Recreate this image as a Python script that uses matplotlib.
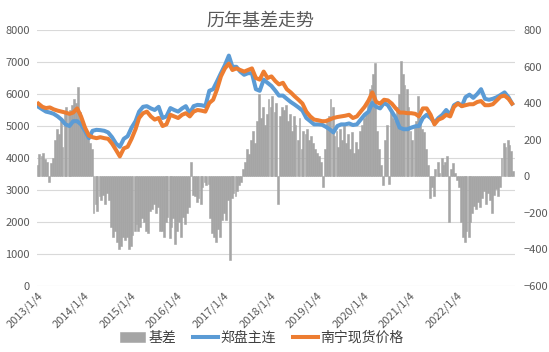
import datetime
import matplotlib
matplotlib.use("Agg")
import matplotlib.pyplot as plt
import pandas as pd

plt.rcParams['font.family'] = ['Noto Sans CJK SC', 'DejaVu Sans']

title = "历年基差走势"
series_names = ["基差", "郑盘主连", "南宁现货价格"]
tick_labels = ["2013/1/4", "2014/1/4", "2015/1/4", "2016/1/4", "2017/1/4",
               "2018/1/4", "2019/1/4", "2020/1/4", "2021/1/4", "2022/1/4"]

# 基差, half-month readings from 2013-01 (right axis)
basis = [
    60, 120, 110, 125, 95, 80, -30, 70, 100, 200, 260, 230, 300, 160, 350, 380, 340, 360, 390, 420, 400, 490, 350, 300,
    280, 260, 220, 180, 150, -200, -150, -190, -110, -130, -100, -150, -90, -130, -280, -330, -300, -360, -400, -380, -330, -350, -330, -400,
    -380, -320, -300, -260, -300, -280, -230, -250, -300, -310, -190, -180, -150, -200, -170, -300, -300, -330, -250, -220, -340, -280, -230, -370,
    -300, -250, -330, -220, -260, -200, -170, 80, -100, -110, -140, -120, -150, -60, -30, -50, -40, -230, -310, -330, -360, -290, -330, -240,
    -200, -240, -130, -460, -120, -90, -110, -80, -50, -30, 40, 80, 150, 120, 200, 250, 180, 300, 450, 320, 380, 280, 340, 420,
    380, 440, 350, 400, -150, 330, 380, 360, 390, 300, 340, 250, 330, 280, 200, 320, 150, 250, 230, 260, 200, 220, 180, 150,
    130, 110, 80, -60, 150, 300, 330, 420, 380, 220, 250, 160, 260, 200, 280, 180, 230, 150, 240, 130, 190, 150, 250, 280,
    320, 340, 400, 480, 500, 560, 620, 250, 150, 60, -50, 200, 280, -40, 350, 320, 300, 380, 450, 630, 560, 500, 480, 380,
    250, 200, 270, 300, 440, 320, 260, 240, 150, 60, -120, -60, -110, 40, 80, 20, 100, 60, 80, 110, -250, 40, 70, 20,
    -20, -60, -250, -330, -360, -300, -330, -250, -200, -160, -180, -140, -170, -120, -80, -150, -90, -130, -200, -100, -70, -110, -60, 100,
    180, 160, 200, 170, 140, 30,
]

# 郑盘主连, monthly
futures = [
    5600, 5520, 5450, 5420, 5380, 5300, 5200, 5050, 5000, 5150, 5150, 5050,
    4850, 4620, 4850, 4880, 4870, 4850, 4800, 4650, 4450, 4350, 4600, 4680,
    4950, 5150, 5450, 5600, 5620, 5550, 5500, 5600, 5250, 5300, 5560, 5500,
    5450, 5550, 5620, 5400, 5620, 5660, 5650, 5620, 6100, 6150, 6400, 6650,
    6900, 7200, 6850, 6850, 6700, 6600, 6650, 6650, 6150, 6100, 6450, 6350,
    6250, 6100, 5950, 5950, 5850, 5750, 5670, 5580, 5480, 5250, 5150, 5050,
    5050, 5040, 4980, 4900, 4800, 5000, 5050, 5050, 5080, 5030, 5050, 5200,
    5350, 5450, 5720, 5600, 5550, 5720, 5650, 5450, 5250, 4950, 4900, 4900,
    4950, 4990, 5000, 5250, 5350, 5250, 5100, 5250, 5350, 5500, 5350, 5650,
    5720, 5620, 5900, 5980, 5880, 6000, 6150, 5850, 5820, 5850, 5900, 5970,
    6050, 5900, 5700,
]

# 南宁现货价格, monthly
spot = [
    5700, 5600, 5560, 5580, 5520, 5480, 5450, 5420, 5380, 5420, 5550, 5300,
    4950, 4700, 4650, 4620, 4650, 4620, 4600, 4450, 4250, 4050, 4300, 4350,
    4600, 4900, 5250, 5400, 5450, 5300, 5200, 5250, 5000, 5050, 5350, 5300,
    5250, 5350, 5400, 5300, 5450, 5500, 5480, 5450, 5720, 5820, 6150, 6550,
    6800, 6950, 6750, 6800, 6750, 6700, 6750, 6800, 6500, 6450, 6700, 6500,
    6550, 6400, 6300, 6350, 6150, 6050, 5930, 5820, 5700, 5450, 5300, 5200,
    5180, 5150, 5150, 5200, 5250, 5280, 5300, 5320, 5350, 5250, 5300, 5450,
    5600, 5800, 6050, 5750, 5700, 5820, 5800, 5700, 5550, 5420, 5420, 5400,
    5400, 5380, 5300, 5550, 5550, 5350, 5050, 5200, 5250, 5350, 5300, 5600,
    5700, 5620, 5650, 5680, 5680, 5750, 5780, 5650, 5650, 5680, 5800, 5920,
    5950, 5850, 5700,
]

bar_dates = pd.date_range("2013-01-01", periods=len(basis), freq="SMS")
line_dates = pd.date_range("2013-01-01", periods=len(spot), freq="MS") + pd.Timedelta(days=14)
tick_dates = pd.to_datetime(tick_labels, format="%Y/%m/%d")

fig = plt.figure(figsize=(5.49, 3.52), dpi=100)
ax = fig.add_axes([37 / 549, 1 - 286 / 352, 478 / 549, 256 / 352])

# left axis: grid only
ax.set_ylim(0, 8000)
ax.set_yticks(range(0, 8001, 1000))
ax.grid(axis="y", color="#d9d9d9", lw=0.8)
ax.set_axisbelow(True)
ax.tick_params(length=0, colors="#595959", labelsize=8)
ax.tick_params(axis="y", pad=5)

# right axis: basis bars
ax2 = ax.twinx()
ax2.bar(bar_dates, basis, width=datetime.timedelta(days=15), align="edge",
        color="#a5a5a5", edgecolor="#a5a5a5", linewidth=0.4, label=series_names[0])
ax2.set_ylim(-600, 800)
ax2.set_yticks(range(-600, 801, 200))
ax2.tick_params(length=0, colors="#595959", labelsize=8, pad=6)

# lines on top
ax3 = ax.twinx()
ax3.plot(line_dates, futures, color="#5b9bd5", lw=2.9, solid_joinstyle="round", label=series_names[1])
ax3.plot(line_dates, spot, color="#ed7d31", lw=2.9, solid_joinstyle="round", label=series_names[2])
ax3.set_ylim(0, 8000)
ax3.set_yticks([])

for a in (ax, ax2, ax3):
    for s in a.spines.values():
        s.set_visible(False)

ax.set_xlim(pd.Timestamp("2013-01-04"), pd.Timestamp("2023-04-07"))
ax.set_xticks(tick_dates)
ax.set_xticklabels(tick_labels, rotation=45, ha="right", va="top", rotation_mode="anchor")
ax.tick_params(axis="x", pad=3)

fig.text(260 / 549, 1 - 20.5 / 352, title, ha="center", va="center", fontsize=13, color="#595959")

h2, l2 = ax2.get_legend_handles_labels()
h3, l3 = ax3.get_legend_handles_labels()
fig.legend(h2 + h3, l2 + l3, loc="center", bbox_to_anchor=(262 / 549, 1 - 338 / 352), ncol=3,
           frameon=False, fontsize=10, handlelength=1.8, handletextpad=0.2, columnspacing=1.2,
           labelcolor="#404040")

fig.savefig("out.png", dpi=100)
